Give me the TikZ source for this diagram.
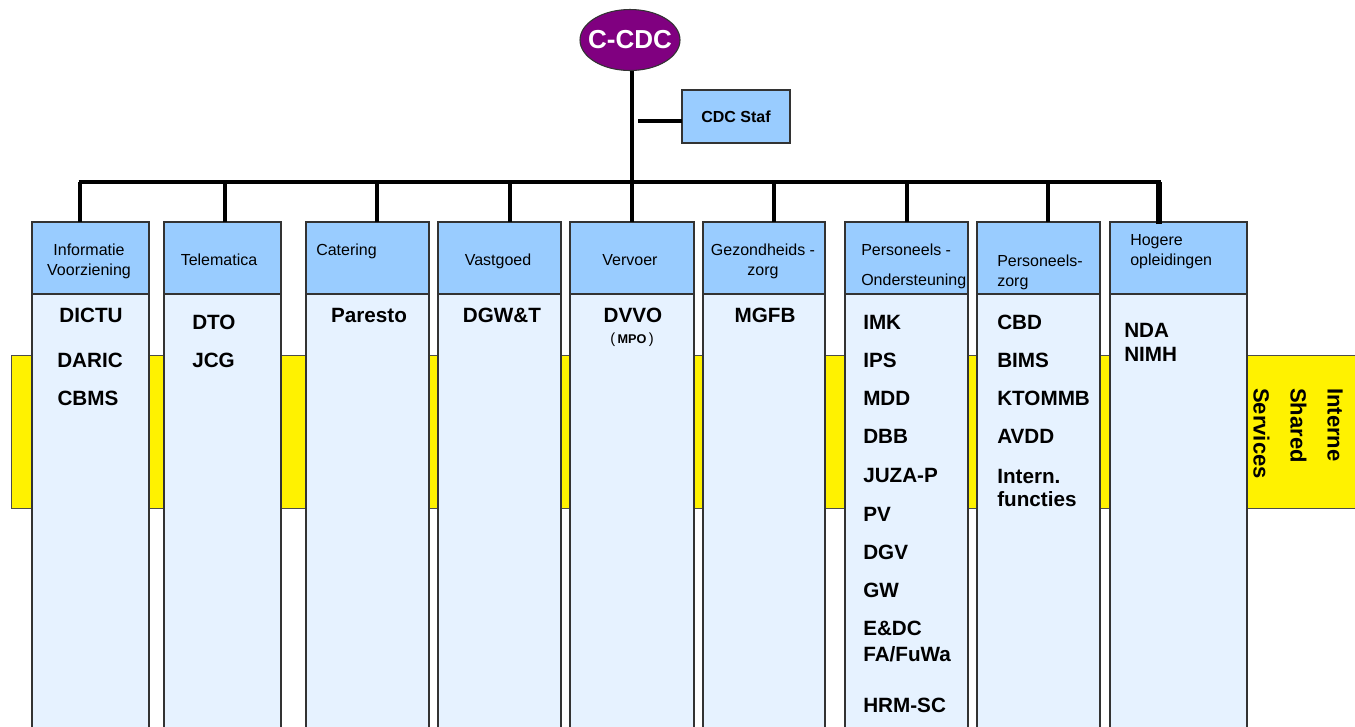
\documentclass[tikz,border=0pt]{standalone}
\usepackage{fontspec}
\setmainfont{Liberation Sans}
\usetikzlibrary{shapes.geometric}
\definecolor{kopblauw}{HTML}{99CCFF}
\definecolor{rompblauw}{HTML}{E6F2FF}
\definecolor{paars}{HTML}{800080}
\tikzset{
  kop/.style={draw=black!80,line width=0.8pt,fill=kopblauw,inner sep=0pt,outer sep=0pt,minimum height=72*0.75pt},
  romp/.style={draw=black!80,line width=0.8pt,fill=rompblauw,inner sep=0pt,outer sep=0pt,minimum height=446*0.75pt},
  band/.style={draw=black!70,line width=0.6pt,fill=yellow},
  bar/.style={line width=3pt},
  koptekst/.style={inner sep=0pt,font=\fontsize{12}{15}\selectfont},
  item/.style={inner sep=0pt,font=\bfseries\fontsize{15.5}{18}\selectfont}
}
\begin{document}
\begin{tikzpicture}[x=0.75pt,y=-0.75pt]
\clip (0,0) rectangle (1355,726);
\draw[band] (11,355) rectangle (1365,508);
\node[rotate=-90,anchor=north west,align=left,inner sep=0pt,font=\bfseries\fontsize{16.5}{27.75}\selectfont] (iss) at (1343,388) {Interne\\Shared\\Services};
\foreach \n/\xl/\xr in {info/32/149,tele/164/281,cat/306/429,vast/438/561,verv/570/694,gez/703/825,pond/845/968,pzorg/977/1100,hog/1110/1247}{
  \node[romp,minimum width={(\xr-\xl)*0.75pt}] (\n-romp) at ({(\xl+\xr)/2},517) {};
  \node[kop,minimum width={(\xr-\xl)*0.75pt}] (\n) at ({(\xl+\xr)/2},258) {};
}
\node[koptekst,anchor=north,align=center] (info-t) at (89,243.5) {Informatie\\Voorziening};
\node[koptekst,anchor=base] (tele-t) at (219,265) {Telematica};
\node[koptekst,anchor=base west] (cat-t) at (316,255) {Catering};
\node[koptekst,anchor=base] (vast-t) at (498,265) {Vastgoed};
\node[koptekst,anchor=base] (verv-t) at (630,265) {Vervoer};
\node[koptekst,anchor=north,align=center] (gez-t) at (763,243.5) {Gezondheids -\\zorg};
\node[koptekst,anchor=north west,align=left] (pond-t) at (861,243.5) {Personeels -\\[7.5pt]Ondersteuning};
\node[koptekst,anchor=north west,align=left] (pzorg-t) at (997,254.5) {Personeels-\\zorg};
\node[koptekst,anchor=north west,align=left] (hog-t) at (1130,234.5) {Hogere\\opleidingen};
\node[item,anchor=base] (dictu) at (91,322) {DICTU};
\node[item,anchor=base] (daric) at (90,367) {DARIC};
\node[item,anchor=base] (cbms) at (88,405) {CBMS};
\node[item,anchor=base west] (dto) at (192,329) {DTO};
\node[item,anchor=base west] (jcg) at (192,367) {JCG};
\node[item,anchor=base] (paresto) at (369,322) {Paresto};
\node[item,anchor=base] (dgwt) at (502,322) {DGW\&T};
\node[item,anchor=base] (dvvo) at (633,322) {DVVO};
\node[inner sep=0pt,anchor=base,font=\fontsize{11}{12}\selectfont] (mpo) at (632,343) {(\,{\bfseries\fontsize{9.5}{11}\selectfont MPO}\,)};
\node[item,anchor=base] (mgfb) at (765,322) {MGFB};
\foreach \t/\y [count=\i] in {IMK/329,IPS/367,MDD/405,DBB/443,JUZA-P/482,PV/521,DGV/559,GW/597,E\&DC/635,{FA/FuWa}/661,HRM-SC/712}
  \node[item,anchor=base west] (po\i) at (863,\y) {\t};
\foreach \t/\y [count=\i] in {CBD/329,BIMS/367,KTOMMB/405,AVDD/443,Intern./483,functies/506}
  \node[item,anchor=base west] (pz\i) at (997,\y) {\t};
\node[item,anchor=base west] (nda) at (1124,337) {NDA};
\node[item,anchor=base west] (nimh) at (1124,361) {NIMH};
\node[ellipse,draw=black!80,line width=0.8pt,fill=paars,text=white,inner xsep=-5pt,inner ysep=0pt,minimum width=100*0.75pt,minimum height=61*0.75pt,font=\bfseries\fontsize{19.5}{22}\selectfont] (ccdc) at (630,40) {C-CDC};
\node[kop,minimum width=108*0.75pt,minimum height=53*0.75pt,font=\bfseries\fontsize{12}{14}\selectfont] (staf) at (736,116.5) {CDC Staf};
\coordinate (busL) at (78.5,182);
\coordinate (busR) at (1161,182);
\coordinate (stafaf) at (638,121);
\draw[bar] (ccdc.south -| verv.north) -- (verv);
\draw[bar] (stafaf) -- (staf.west |- stafaf);
\draw[bar] (busL) -- (busR);
\foreach \n/\dx in {info/-10.5,tele/2.5,cat/9.5,vast/10.5,gez/10,pond/0,pzorg/9.5}
  \draw[bar] ([xshift=\dx*0.75pt]\n.north) -- ([xshift=\dx*0.75pt]\n.north |- busL);
\draw[bar,line width=4pt] ([xshift=-19.5*0.75pt,yshift=-1.5pt]hog.north) -- ([xshift=-19.5*0.75pt]hog.north |- busL);
\end{tikzpicture}
\end{document}
